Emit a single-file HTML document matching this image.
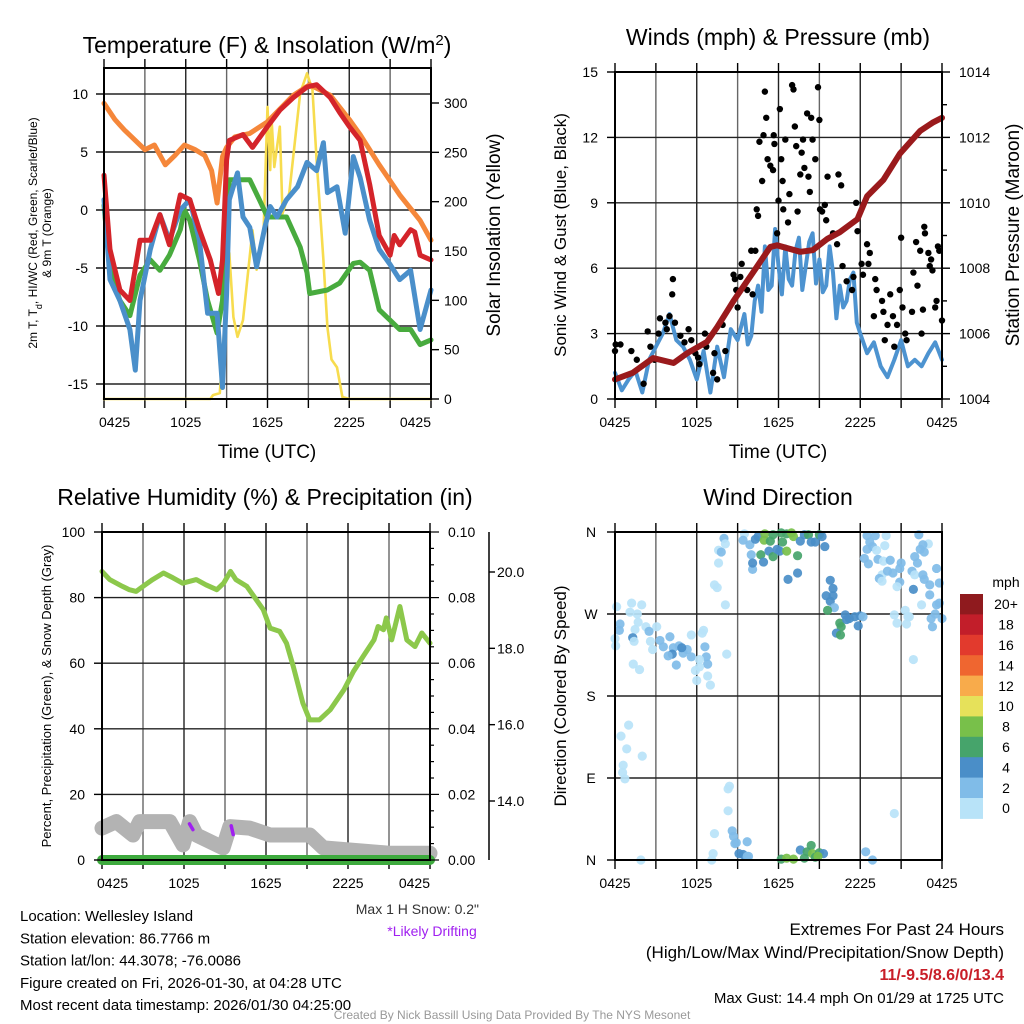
<!DOCTYPE html>
<html><head><meta charset="utf-8">
<style>
html,body{margin:0;padding:0;background:#fff;}
svg{display:block;font-family:"Liberation Sans",sans-serif;}
</style></head>
<body>
<svg id="fig" width="1024" height="1024" viewBox="0 0 1024 1024" xmlns="http://www.w3.org/2000/svg">
<rect x="0" y="0" width="1024" height="1024" fill="#fff"/>
</svg>
<script>
// ---------- Temperature panel data (hours since 0425 UTC, value) ----------
const tempTickLabels = ["-15","-10","-5","0","5","10"];
const tempTickValues = [-15,-10,-5,0,5,10];
const solarTickValues = [0,50,100,150,200,250,300];
const timeTickLabels = ["0425","1025","1625","2225","0425"];
const redT = [[0,3.0],[0.44,-3.4],[1.17,-6.9],[1.9,-7.8],[2.64,-2.6],[3.4,-2.6],[4.1,-0.4],[4.8,-3.0],[5.6,1.3],[6.3,0.9],[7.0,-1.7],[7.8,-4.3],[8.4,-7.2],[8.7,-4.3],[9.0,4.3],[9.2,6.0],[10.2,6.5],[10.9,5.4],[12.0,7.2],[12.9,8.6],[13.9,9.7],[14.9,10.6],[15.6,10.8],[16.6,9.7],[17.3,8.4],[18.0,7.2],[18.8,6.0],[19.5,2.2],[20.2,-2.2],[21.0,-3.9],[21.3,-2.2],[21.7,-3.0],[22.5,-1.7],[22.8,-1.9],[23.2,-3.9],[24,-4.3]];
const orangeT = [[0,9.2],[0.8,7.8],[1.5,6.9],[2.3,6.0],[3.0,5.2],[3.7,5.6],[4.5,3.9],[5.2,4.7],[5.9,5.6],[6.7,5.2],[7.4,4.7],[7.9,3.4],[8.3,0.6],[8.7,4.6],[9.0,5.4],[9.6,6.3],[10.7,6.6],[12.0,7.6],[13.9,9.9],[15.1,10.8],[16.6,9.9],[18.0,7.8],[18.8,6.5],[20.2,3.9],[21.7,1.3],[23.2,-0.9],[24,-2.6]];
const greenTd = [[0,0.4],[0.44,-5.2],[1.17,-7.8],[1.9,-9.1],[2.64,-5.6],[3.4,-4.3],[4.1,-5.2],[4.8,-3.9],[5.6,-1.7],[5.9,0],[6.3,-0.9],[7.0,-4.3],[7.6,-7.8],[8.3,-10.6],[8.7,-7.8],[9.2,2.6],[10.7,2.6],[11.4,0.9],[12.0,-0.6],[13.4,-0.6],[14.4,-3.2],[14.9,-5.4],[15.1,-7.2],[16.4,-6.9],[17.3,-6.3],[18.3,-4.6],[18.8,-4.5],[19.5,-5.2],[20.2,-8.6],[21.0,-9.5],[21.7,-10.3],[22.5,-10.3],[23.2,-11.6],[24,-11.2]];
const blueWC = [[0,0.9],[0.44,-6.0],[1.17,-7.8],[1.9,-10.3],[2.3,-13.8],[2.64,-7.8],[3.4,-3.4],[4.1,-0.4],[4.8,-2.6],[5.6,0],[6.3,0.9],[7.0,-2.6],[7.6,-8.9],[8.3,-8.9],[8.7,-15.3],[9.0,-7.2],[9.2,0.9],[9.8,3.2],[10.2,-0.6],[10.7,-1.5],[11.2,-4.9],[11.8,-1.5],[12.2,0.3],[12.7,-0.6],[13.4,0.9],[14.2,2.0],[14.9,4.1],[15.6,3.4],[16.1,5.8],[16.4,1.5],[17.1,2.0],[17.7,-2.0],[18.3,4.6],[18.8,2.8],[19.5,-0.9],[20.2,-3.4],[21.0,-4.7],[21.7,-6.0],[22.5,-5.2],[23.2,-10.3],[24,-6.9]];
const solarW = [[0,0],[7.8,0],[8.0,4],[8.5,6],[9.2,148],[9.5,83],[9.8,63],[10.2,80],[10.9,171],[11.2,131],[11.7,164],[12.0,296],[12.2,232],[12.3,283],[12.5,235],[12.9,276],[13.1,188],[13.6,209],[14.4,310],[14.9,330],[15.3,313],[15.6,242],[16.1,141],[16.4,73],[16.7,40],[17.1,32],[17.5,2],[18.0,0],[24,0]];

// ---------- Wind panel data ----------
const windTickValues = [0,3,6,9,12,15];
const pressTickValues = [1004,1006,1008,1010,1012,1014];
const sonicHours = [0,0.5,1,1.5,2,2.5,3,3.5,4,4.5,5,5.5,6,6.5,7,7.5,8,8.5,9,9.5,9.75,10,10.25,10.5,10.75,11,11.25,11.5,11.75,12,12.25,12.5,12.75,13,13.25,13.5,13.75,14,14.25,14.5,14.75,15,15.25,15.5,15.75,16,16.25,16.5,16.75,17,17.25,17.5,17.75,18,18.5,19,19.5,20,20.5,21,21.5,22,22.5,23,23.5,24];
const sonicMph = [1.2,0.4,0.9,1.3,0.3,1.8,2.4,3.0,3.9,2.7,2.4,1.8,0.9,2.2,0.3,2.4,1.0,3.2,2.7,3.9,2.5,2.9,4.5,5.2,4.0,7.0,5.0,5.2,7.8,6.1,4.8,7.0,5.5,5.2,6.8,7.4,5.0,6.1,7.2,7.6,5.3,6.4,4.9,5.2,7.0,5.8,3.7,5.2,4.2,4.5,5.5,5.8,3.5,3.0,2.1,2.6,1.5,1.0,1.8,2.7,1.5,1.8,1.5,2.1,2.6,1.8];
const gustPts = [[0,2.2],[0.05,2.5],[0.4,2.5],[1.2,2.2],[1.6,1.8],[2.1,0.7],[2.4,3.1],[2.6,2.4],[2.9,1.8],[3.2,3.0],[3.3,3.7],[3.7,3.5],[3.8,3.2],[4.0,3.8],[4.2,4.8],[4.25,5.5],[4.4,3.5],[4.8,2.9],[5.1,2.6],[5.4,3.2],[5.6,2.7],[5.9,2.1],[6.1,1.9],[6.2,1.6],[6.6,3.0],[6.7,2.4],[7.2,1.2],[7.3,2.1],[7.5,0.9],[7.9,3.4],[8.1,2.2],[8.7,5.7],[8.8,5.5],[8.9,5.0],[9.0,4.2],[9.2,5.6],[9.3,6.2],[9.7,5.0],[10.0,6.8],[10.1,4.8],[10.3,6.8],[10.4,8.7],[10.5,8.4],[10.6,11.8],[10.8,10.0],[10.9,12.1],[11.0,14.1],[11.1,12.9],[11.2,11.0],[11.4,10.7],[11.6,10.5],[11.65,12.1],[11.7,11.7],[11.9,7.6],[12.0,9.1],[12.1,13.3],[12.2,11.0],[12.3,10.0],[12.35,8.7],[12.5,11.9],[12.7,8.1],[12.8,9.4],[13.0,14.4],[13.1,14.2],[13.2,12.5],[13.3,11.6],[13.4,8.6],[13.6,10.3],[13.7,11.3],[13.8,11.9],[13.9,10.6],[14.1,13.1],[14.2,10.2],[14.3,9.5],[14.4,12.9],[14.5,11.9],[14.7,11.0],[14.9,14.3],[15.0,12.8],[15.05,8.7],[15.2,8.6],[15.4,8.9],[15.5,8.2],[15.6,10.2],[16.0,7.6],[16.3,7.1],[16.4,10.3],[16.6,9.8],[16.7,6.1],[17.0,5.4],[17.4,5.0],[17.5,5.6],[17.7,9.0],[17.8,7.7],[18.1,6.2],[18.2,5.7],[18.5,7.1],[18.6,6.2],[18.7,6.7],[19.0,3.8],[19.1,5.5],[19.2,5.0],[19.6,4.5],[19.7,4.0],[19.8,2.7],[20.0,3.4],[20.2,4.8],[20.4,3.8],[20.5,2.4],[20.7,3.4],[20.9,5.0],[21.0,7.4],[21.1,4.2],[21.3,3.0],[21.4,2.7],[21.8,4.0],[21.9,5.8],[22.1,7.2],[22.2,5.2],[22.4,6.8],[22.5,3.0],[22.6,4.1],[22.7,7.9],[22.75,7.6],[23.0,6.7],[23.1,6.1],[23.2,6.4],[23.3,5.9],[23.5,4.2],[23.6,4.5],[23.7,7.0],[23.8,6.8],[24.0,3.6]];
const pressPts = [[0,1004.6],[1.3,1004.8],[2.8,1005.25],[4.3,1005.1],[5.3,1005.4],[6.75,1005.75],[7.5,1006.2],[8.7,1007.0],[10.1,1007.85],[11.4,1008.65],[11.9,1008.7],[13.6,1008.5],[14.5,1008.55],[15.6,1008.9],[16.5,1009.1],[17.8,1009.5],[18.5,1010.2],[19.7,1010.7],[20.9,1011.5],[22.4,1012.2],[23.3,1012.45],[24,1012.6]];

// ---------- RH panel data ----------
const rhTickValues = [0,20,40,60,80,100];
const precipTickLabels = ["0.00","0.02","0.04","0.06","0.08","0.10"];
const snowTickValues = [14,16,18,20];
const snowTickLabels = ["14.0","16.0","18.0","20.0"];
const rhPts = [[0,88],[0.56,85.5],[1.5,83.4],[2.0,82.4],[2.5,81.9],[3.0,83.4],[3.7,85.5],[4.5,87.5],[5.2,86],[5.9,84.4],[6.9,85.5],[7.6,83.9],[8.4,82.4],[8.9,84.4],[9.4,88],[9.8,85.5],[10.6,83.4],[11.3,79.3],[11.8,76.3],[12.3,70.7],[13.0,69.7],[13.5,66.1],[14.0,59],[14.7,47.8],[15.2,42.7],[15.9,42.7],[16.7,45.8],[17.7,51.9],[18.4,57.5],[19.1,62],[19.9,67.1],[20.2,71.2],[20.6,70.2],[20.8,73.8],[21.2,67.1],[21.8,77.3],[22.3,67.1],[22.9,65.1],[23.4,69.2],[24,66.1]];
const snowPts = [[0,13.29],[1.05,13.46],[2.27,13.11],[2.76,13.46],[4.96,13.46],[5.93,12.85],[6.42,13.46],[6.91,13.11],[8.86,12.77],[9.35,13.33],[10.8,13.29],[12.3,13.11],[15.2,13.11],[16.2,12.77],[21.1,12.63],[24,12.63]];
const driftPts = [[[6.4,13.4],[6.65,13.25]],[[9.45,13.35],[9.6,13.12]]];
const precipPts = [[0,0],[24,0]];

// ---------- Wind direction data [hour, degrees, speed mph] ----------
const dirTickLabels = ["N","E","S","W","N"];
const dirTickValues = [0,90,180,270,360];
const speedBins = ["0","2","4","6","8","10","12","14","16","18","20+"];
const speedColors = ["#b8e3f8","#80bce8","#4a8ec8","#46a46b","#78c04a","#e6e15a","#f8ab4b","#ef6630","#e23a2d","#c21e2a","#8f1a1e"];
const dirPts = [[0.12,278,1],[1.22,282,1],[1.96,280,1],[1.1,272,1],[1.64,270,1],[0.37,259,3],[0.32,252,3],[0,243,1],[0.05,235,1],[1.47,253,1],[1.7,261,1],[2.27,256,1],[2.5,251,3],[1.3,244,5],[1.4,240,1],[3.06,256,1],[2.6,240,1],[2.76,231,1],[3.3,241,3],[3.55,234,3],[4.03,245,3],[4.28,233,3],[4.2,226,5],[4.7,235,3],[5.0,227,3],[5.3,231,3],[5.6,223,3],[4.5,214,3],[4.9,233,5],[3.9,224,3],[5.6,247,1],[6.5,252,1],[6.4,249,1],[6.6,234,3],[6.7,223,3],[6.8,215,3],[6.2,220,1],[5.9,208,1],[6.2,212,1],[6.8,202,1],[6.0,197,1],[7.0,192,1],[8.2,226,1],[1.34,215,1],[1.8,209,1],
[1.0,148,1],[0.44,136,1],[0.86,122,1],[2.0,114,1],[0.6,104,1],[0.56,96,1],[0.73,89,1],
[8.4,81,1],[8.3,78,1],[8.3,54,1],[7.3,29,1],[7.2,7,1],[7.1,0,1],[1.9,0,1],[8.6,32,3],[8.7,26,3],[8.8,18,3],[9.7,20,3],[9.1,7,5],[9.4,6,5],[9.7,4,3],[9.8,4,3],[8.9,19,3],[12.2,1,7],[12.6,2,9],[13.1,1,9],[13.6,11,5],[13.9,2,7],[14.1,9,7],[14.4,16,7],[14.5,7,9],[14.7,3,7],[15.0,8,7],[15.3,7,5],[14.9,4,9],[18.4,9,3],[18.9,0,3],[20.5,51,1],[21.9,220,1],
[8.0,353,3],[8.1,347,1],[7.6,340,1],[7.8,338,3],[7.6,326,1],[7.3,302,1],[7.5,299,1],[8.1,280,1],[9.5,358,1],[9.4,351,3],[9.9,346,3],[10.3,352,5],[10.5,355,5],[10.0,335,3],[10.1,319,3],[10.1,326,5],[10.7,335,7],[10.9,327,5],[11.0,358,9],[10.95,351,9],[11.4,350,7],[11.6,357,7],[11.3,339,5],[11.6,333,7],[11.9,341,5],[12.1,339,5],[12.3,349,7],[12.2,359,7],[12.6,358,7],[12.95,359,9],[13.1,355,9],[12.6,339,9],[13.4,334,7],[12.7,308,5],[13.4,315,5],[13.6,350,5],[13.9,357,5],[14.2,357,7],[14.4,349,5],[14.7,349,5],[15.0,357,7],[15.2,355,5],[15.4,344,5],[15.8,307,5],[16.0,298,5],[15.5,290,5],[15.8,284,5],[16.0,290,5],[16.1,277,3],[15.6,274,7],[16.9,269,5],[17.2,265,5],[17.6,267,5],[18.0,268,5],[18.2,267,3],[16.5,260,7],[16.6,256,7],[16.25,249,5],[16.55,247,7],[17.85,257,5],[17.0,264,5],
[18.5,356,3],[19.1,356,3],[19.9,356,1],[18.7,349,3],[18.5,341,3],[18.9,344,3],[19.2,340,1],[19.8,345,1],[18.3,331,3],[18.6,325,3],[19.3,330,3],[19.7,328,1],[20.2,329,3],[19.6,313,1],[19.4,309,3],[19.6,306,1],[20.0,317,3],[20.4,315,3],[21.0,326,3],[20.9,320,3],[20.9,305,3],[20.7,300,1],[21.8,317,3],[22.0,333,3],[21.9,297,5],[22.3,357,3],[23.0,347,1],[22.6,346,3],[22.4,341,3],[22.7,338,3],[22.2,326,3],[22.0,313,1],[22.6,313,3],[22.7,308,3],[23.1,302,3],[23.1,291,3],[23.6,320,3],[23.8,304,3],[22.5,280,1],[23.6,280,3],[23.8,282,3],[23.5,270,3],[23.2,265,3],[24.0,265,3],[23.3,256,3],[21.3,274,1],[21.5,267,1],[20.5,269,1],[20.7,260,1],[21.4,259,1],[21.6,267,1]];

// ---------- helpers ----------
const NS = "http://www.w3.org/2000/svg";
const svg = document.getElementById("fig");
function mk(tag, attrs, parent) {
  const e = document.createElementNS(NS, tag);
  for (const k in attrs) e.setAttribute(k, attrs[k]);
  (parent || svg).appendChild(e);
  return e;
}
function txt(x, y, s, size, anchor, parent, extra) {
  const e = mk("text", Object.assign({x: x, y: y, "font-size": size, "text-anchor": anchor || "middle", fill: "#000"}, extra || {}), parent);
  e.textContent = s;
  return e;
}
function vtxt(x, y, s, size, parent, extra) {
  const e = mk("text", Object.assign({x: 0, y: 0, "font-size": size, "text-anchor": "middle", fill: "#000", transform: "translate(" + x + "," + y + ") rotate(-90)"}, extra || {}), parent);
  e.textContent = s;
  return e;
}
function timeScale(x0, x1) { return h => x0 + h / 24 * (x1 - x0); }
function linScale(v0, v1, p0, p1) { return v => p0 + (v - v0) / (v1 - v0) * (p1 - p0); }
function pathD(pts, fx, fy) { return pts.map((p, i) => (i ? "L" : "M") + fx(p[0]).toFixed(1) + "," + fy(p[1]).toFixed(1)).join(""); }

function frame(g, x0, x1, y0, y1, hGridVals, fy) {
  const X = timeScale(x0, x1);
  for (let h = 3; h < 24; h += 3) {
    const l = mk("line", {x1: X(h), x2: X(h), y1: y0, y2: y1, stroke: h % 6 === 0 ? "#222" : "#666", "stroke-width": 1.4}, g);
    
    
  }
  hGridVals.forEach(v => {
    const y = fy(v);
    if (y > y0 + 1 && y < y1 - 1) {
      const l = mk("line", {x1: x0, x2: x1, y1: y, y2: y, stroke: "#222", "stroke-width": 1.4}, g);
      
      
    }
  });
  for (let h = 0; h <= 24; h += 3) {
    mk("line", {x1: X(h), x2: X(h), y1: y0 - 9, y2: y0, stroke: "#000", "stroke-width": 1.4}, g);
    mk("line", {x1: X(h), x2: X(h), y1: y1, y2: y1 + 9, stroke: "#000", "stroke-width": 1.4}, g);
  }
}
function box(g, x0, x1, y0, y1) {
  const r = mk("rect", {x: x0, y: y0, width: x1 - x0, height: y1 - y0, fill: "none", stroke: "#000", "stroke-width": 2}, g);
  
  
}
function timeLabels(g, x0, x1, y, clamp) {
  const X = timeScale(x0, x1);
  timeTickLabels.forEach((s, i) => {
    let a = "middle", x = X(i * 6);
    if (clamp && i === 0) { a = "start"; x = x0 - 5; }
    if (clamp && i === 4) { a = "end"; x = x1; }
    const t = txt(x, y, s, 14, a, g);
    
    
  });
}
function line(g, d, color, w, name) {
  const p = mk("path", {d: d, fill: "none", stroke: color, "stroke-width": w, "stroke-linejoin": "round", "stroke-linecap": "round"}, g);
  
  
  return p;
}

// ================= Panel 1: Temperature =================
(function () {
  const g = mk("g", {});
  
  
  const x0 = 104, x1 = 431, y0 = 68, y1 = 399;
  const X = timeScale(x0, x1);
  const Y = linScale(0, 10, 210, 94);
  const YS = linScale(0, 300, 399, 103);
  frame(g, x0, x1, y0, y1, tempTickValues, Y);
  line(g, pathD(solarW, X, YS), "#f7dc4e", 2.6, "solar-insolation-line");
  line(g, pathD(orangeT, X, Y), "#f5873a", 5, "temp-9m-line");
  line(g, pathD(greenTd, X, Y), "#48ab3e", 5, "dewpoint-line");
  line(g, pathD(blueWC, X, Y), "#4a8fca", 5, "windchill-line");
  line(g, pathD(redT, X, Y), "#d4242a", 5, "temp-2m-line");
  box(g, x0, x1, y0, y1);
  tempTickValues.forEach((v, i) => {
    mk("line", {x1: x0 - 8, x2: x0, y1: Y(v), y2: Y(v), stroke: "#000", "stroke-width": 1.4}, g);
    const t = txt(88, Y(v) + 5, tempTickLabels[i], 14, "end", g);
    
    
  });
  solarTickValues.forEach(v => {
    mk("line", {x1: x1, x2: x1 + 8, y1: YS(v), y2: YS(v), stroke: "#000", "stroke-width": 1.4}, g);
    const t = txt(444, YS(v) + 5, String(v), 14, "start", g);
    
    
  });
  timeLabels(g, x0, x1, 427, true);
  const xt = txt(267, 458, "Time (UTC)", 19, "middle", g);
  
  
  const rt = vtxt(500, 235, "Solar Insolation (Yellow)", 19, g);
  
  
  const l1 = vtxt(37, 233, "", 12, g);
  l1.innerHTML = '2m T, T<tspan baseline-shift="sub" font-size="9">d</tspan>, HI/WC (Red, Green, Scarlet/Blue)';
  
  
  const l2 = vtxt(51, 233, "& 9m T (Orange)", 12, g);
  
  
  const tt = txt(267, 53, "", 23, "middle", g);
  tt.innerHTML = 'Temperature (F) &amp; Insolation (W/m<tspan baseline-shift="super" font-size="15">2</tspan>)';
  
  
})();

// ================= Panel 2: Winds =================
(function () {
  const g = mk("g", {});
  
  
  const x0 = 615, x1 = 942, y0 = 72, y1 = 399;
  const X = timeScale(x0, x1);
  const Y = linScale(0, 15, 399, 72);
  const YP = linScale(1004, 1014, 399, 72);
  frame(g, x0, x1, y0, y1, windTickValues, Y);
  const sonic = sonicHours.map((h, i) => [h, sonicMph[i]]);
  line(g, pathD(sonic, X, Y), "#4d93d0", 4, "sonic-wind-line");
  gustPts.forEach(p => {
    const c = mk("circle", {cx: X(p[0]), cy: Y(p[1]), r: 3.2, fill: "#000"}, g);
    
    
  });
  line(g, pathD(pressPts, X, YP), "#9a1a1c", 6, "pressure-line");
  box(g, x0, x1, y0, y1);
  windTickValues.forEach(v => {
    mk("line", {x1: x0 - 8, x2: x0, y1: Y(v), y2: Y(v), stroke: "#000", "stroke-width": 1.4}, g);
    const t = txt(598, Y(v) + 5, String(v), 14, "end", g);
    
    
  });
  for (let m = 1004; m <= 1014; m++) {
    mk("line", {x1: x1, x2: x1 + (m % 2 ? 5 : 8), y1: YP(m), y2: YP(m), stroke: "#000", "stroke-width": 1.4}, g);
  }
  pressTickValues.forEach(v => {
    const t = txt(959, YP(v) + 5, String(v), 14, "start", g);
    
    
  });
  timeLabels(g, x0, x1, 427, false);
  const xt = txt(778, 458, "Time (UTC)", 19, "middle", g);
  
  
  const lt = vtxt(566, 235, "Sonic Wind & Gust (Blue, Black)", 17, g);
  
  
  const rt = vtxt(1019, 235, "Station Pressure (Maroon)", 19, g);
  
  
  const tt = txt(778, 45, "Winds (mph) & Pressure (mb)", 23, "middle", g);
  
  
})();

// ================= Panel 3: RH =================
(function () {
  const g = mk("g", {});
  
  
  const x0 = 102, x1 = 430, y0 = 532, y1 = 860;
  const X = timeScale(x0, x1);
  const Y = linScale(0, 100, 860, 532);
  const YS = linScale(14, 20, 801, 572);
  frame(g, x0, x1, y0, y1, rhTickValues, Y);
  line(g, pathD(snowPts, X, YS), "#b3b3b3", 15, "snow-depth-line");
  driftPts.forEach(seg => {
    line(g, pathD(seg, X, YS), "#a020f0", 3.5, "drifting-mark");
  });
  line(g, pathD(precipPts, X, Y), "#3eaa3e", 10, "precipitation-line");
  line(g, pathD(rhPts, X, Y), "#8cc84b", 5, "relative-humidity-line");
  box(g, x0, x1, y0, y1);
  rhTickValues.forEach((v, i) => {
    mk("line", {x1: x0 - 8, x2: x0, y1: Y(v), y2: Y(v), stroke: "#000", "stroke-width": 1.4}, g);
    const t = txt(85, Y(v) + 5, String(v), 14, "end", g);
    
    
    const t2 = txt(448, Y(v) + 5, precipTickLabels[i], 14, "start", g);
    
    
  });
  for (let v = 0; v <= 100; v += 5) {
    mk("line", {x1: x1, x2: x1 + (v % 20 ? 4 : 9), y1: Y(v), y2: Y(v), stroke: "#000", "stroke-width": 1.2}, g);
  }
  const ax = mk("line", {x1: 489, x2: 489, y1: y0, y2: y1, stroke: "#000", "stroke-width": 1.5}, g);
  
  
  snowTickValues.forEach((v, i) => {
    mk("line", {x1: 489, x2: 495, y1: YS(v), y2: YS(v), stroke: "#000", "stroke-width": 1.4}, g);
    const t = txt(497, YS(v) + 5, snowTickLabels[i], 14, "start", g);
    
    
  });
  timeLabels(g, x0, x1, 888, true);
  const lt = vtxt(51, 696, "Percent, Precipitation (Green), & Snow Depth (Gray)", 13, g);
  
  
  const tt = txt(265, 505, "Relative Humidity (%) & Precipitation (in)", 23, "middle", g);
  
  
  const ms = txt(479, 914, 'Max 1 H Snow: 0.2"', 14, "end", g, {fill: "#333"});
  
  
  const dr = txt(432, 936, "*Likely Drifting", 14, "middle", g, {fill: "#a020f0"});
  
  
})();

// ================= Panel 4: Wind direction =================
(function () {
  const g = mk("g", {});
  
  
  const x0 = 615, x1 = 942, y0 = 532, y1 = 860;
  const X = timeScale(x0, x1);
  const Y = linScale(0, 360, 860, 532);
  frame(g, x0, x1, y0, y1, dirTickValues, Y);
  function colorFor(s) { return speedColors[Math.min(10, Math.floor(s / 2))]; }
  dirPts.forEach(p => {
    const c = mk("circle", {cx: X(p[0]), cy: Y(p[1]), r: 4.6, fill: colorFor(p[2]), "fill-opacity": 0.92}, g);
    
    
  });
  box(g, x0, x1, y0, y1);
  dirTickValues.forEach((v, i) => {
    mk("line", {x1: x0 - 8, x2: x0, y1: Y(v), y2: Y(v), stroke: "#000", "stroke-width": 1.4}, g);
    const t = txt(591, Y(v) + 5, dirTickLabels[i], 14, "middle", g);
    
    
  });
  timeLabels(g, x0, x1, 888, false);
  const lt = vtxt(566, 696, "Direction (Colored By Speed)", 17, g);
  
  
  const tt = txt(778, 505, "Wind Direction", 23, "middle", g);
  
  
  // colorbar
  const cb = mk("g", {}, g);
  
  
  const top = 594, bh = 20.4;
  speedBins.forEach((lab, i) => {
    const k = 10 - i;
    const r = mk("rect", {x: 960, y: top + i * bh, width: 23, height: bh + 0.5, fill: speedColors[k]}, cb);
    
    
    const t = txt(1006, top + i * bh + bh / 2 + 5, speedBins[k], 14, "middle", cb);
    
    
  });
  const u = txt(1006, 587, "mph", 14, "middle", cb);
  
  
})();

// ================= Footer text =================
(function () {
  const g = mk("g", {});
  
  
  const info = ["Location: Wellesley Island", "Station elevation: 86.7766 m", "Station lat/lon: 44.3078; -76.0086", "Figure created on Fri, 2026-01-30, at 04:28 UTC", "Most recent data timestamp: 2026/01/30 04:25:00"];
  info.forEach((s, i) => {
    const t = txt(20, 921 + i * 22.3, s, 15, "start", g);
    
    
  });
  const e1 = txt(1004, 935, "Extremes For Past 24 Hours", 17, "end", g);
  
  
  const e2 = txt(1004, 958, "(High/Low/Max Wind/Precipitation/Snow Depth)", 17, "end", g);
  
  
  const e3 = txt(1004, 980, "11/-9.5/8.6/0/13.4", 16, "end", g, {fill: "#c81e28", "font-weight": "bold"});
  
  
  const e4 = txt(1004, 1003, "Max Gust: 14.4 mph On 01/29 at 1725 UTC", 15, "end", g);
  
  
  const cr = txt(512, 1019, "Created By Nick Bassill Using Data Provided By The NYS Mesonet", 12, "middle", g, {fill: "#999"});
  
  
})();
</script>
</body></html>
